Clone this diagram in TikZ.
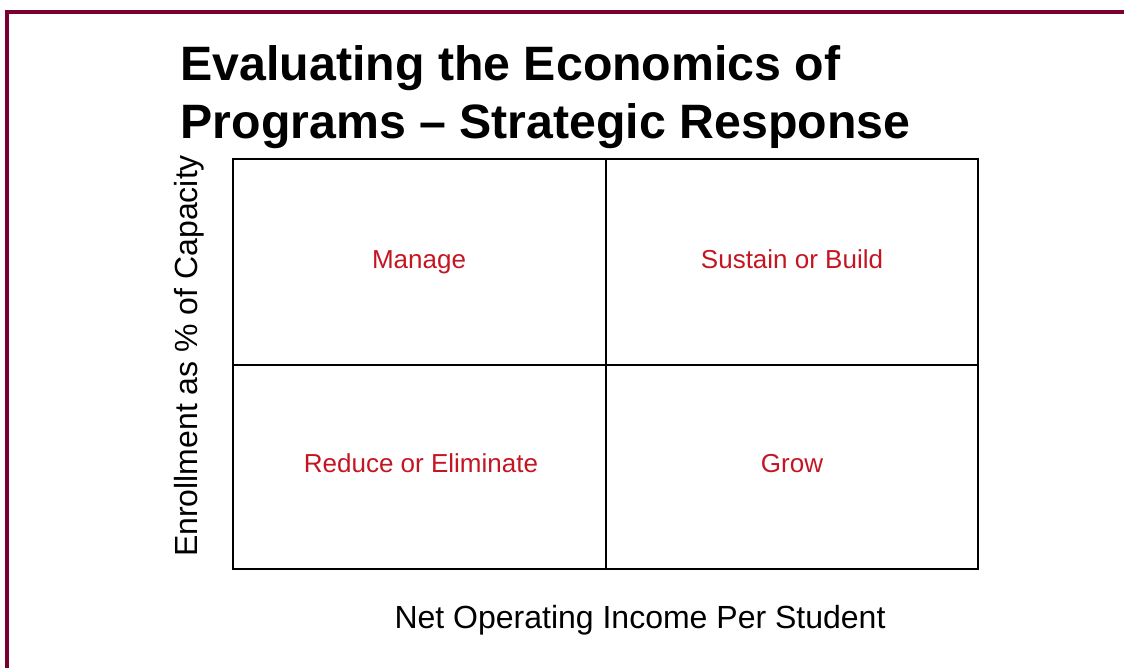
\documentclass[tikz,border=0pt]{standalone}
\usepackage{fontspec}
\setmainfont{Liberation Sans}
\definecolor{maroon}{RGB}{122,0,48}
\definecolor{labelred}{RGB}{196,22,34}

\tikzset{
  titleline/.style={anchor=base west, font=\bfseries\fontsize{36.2}{43}\selectfont},
  cell/.style={anchor=base, text=labelred, font=\fontsize{19.5}{23}\selectfont},
  axislabel/.style={anchor=base, font=\fontsize{24}{29}\selectfont}
}

\begin{document}
\begin{tikzpicture}[x=0.75pt,y=-0.75pt]
      \useasboundingbox (0,0) rectangle (1124,668);
      \draw[maroon, line width=2.6pt] (7,668) -- (7,12) -- (1124,12);   % frame

      \node[titleline] (title1) at (176,80) {Evaluating the Economics of};
      \node[titleline] (title2) at (176,138) {Programs -- Strategic Response};

      % quadrant grid
      \draw[line width=1.7pt] (233,159) rectangle (978,569);
      \draw[line width=0.9pt] (606,159) -- (606,569);
      \draw[line width=0.9pt] (233,365) -- (978,365);

      % responses
      \node[cell] (manage) at (419,268) {Manage};
      \node[cell] (sustain) at (792,268) {Sustain or Build};
      \node[cell] (reduce) at (421,472) {Reduce or Eliminate};
      \node[cell] (grow) at (792,472) {Grow};

      % axes
      \node[axislabel] (xlab) at (640,628) {Net Operating Income Per Student};
      \node[axislabel, rotate=90] (ylab) at (197,356) {Enrollment as \% of Capacity};
    \end{tikzpicture}
\end{document}
